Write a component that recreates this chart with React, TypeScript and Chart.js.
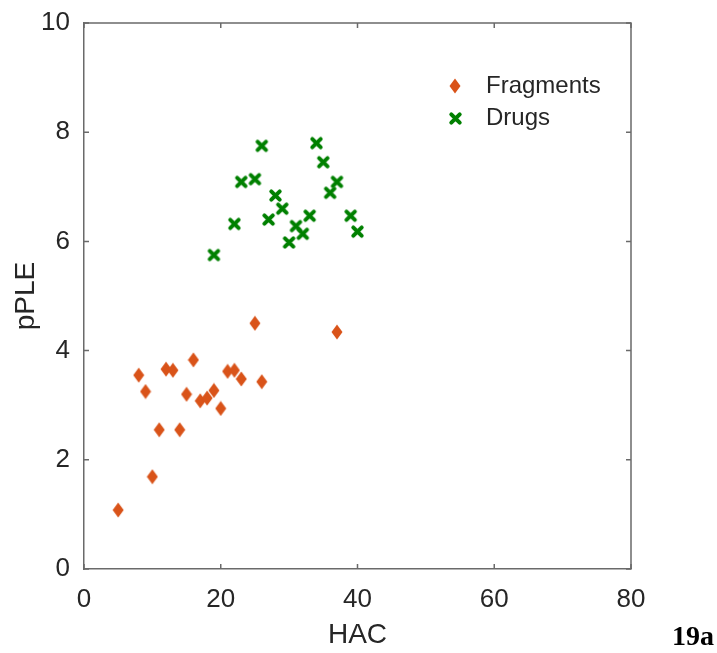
import React, { useEffect, useRef } from "react";
import { Chart, registerables } from "chart.js";

Chart.register(...registerables);

// ---- data ----
const fragmentHAC = [5, 8, 9, 10, 11, 12, 13, 14, 15, 16, 17, 18, 19, 20, 21, 22, 23, 25, 26, 37];
const fragmentPPLE = [1.08, 3.55, 3.25, 1.69, 2.55, 3.66, 3.64, 2.55, 3.2, 3.83, 3.08, 3.13, 3.27, 2.94, 3.62, 3.64, 3.48, 4.5, 3.43, 4.34];
const drugHAC = [19, 22, 23, 25, 26, 27, 28, 29, 30, 31, 32, 33, 34, 35, 36, 37, 39, 40];
const drugPPLE = [5.75, 6.32, 7.09, 7.14, 7.75, 6.4, 6.84, 6.6, 5.98, 6.28, 6.14, 6.47, 7.8, 7.45, 6.89, 7.09, 6.47, 6.18];
const xTickValues = [0, 20, 40, 60, 80];
const yTickValues = [0, 2, 4, 6, 8, 10];
const seriesNames = ["Fragments", "Drugs"];
const xTitle = "HAC";
const yTitle = "pPLE";
const panelLabel = "19a";

const ORANGE = "#D95319";
const GREEN = "#008000";
const TEXT = "#262626";
const AXIS = "#6a6a6a";
const FONT = "'Liberation Sans', Arial, sans-serif";

function makeDiamond(): HTMLCanvasElement {
  const c = document.createElement("canvas");
  c.width = 12;
  c.height = 16;
  const g = c.getContext("2d")!;
  g.fillStyle = ORANGE;
  g.beginPath();
  g.moveTo(6, 0.5);
  g.lineTo(11.5, 8);
  g.lineTo(6, 15.5);
  g.lineTo(0.5, 8);
  g.closePath();
  g.fill();
  return c;
}

function makeCross(): HTMLCanvasElement {
  const c = document.createElement("canvas");
  c.width = 15;
  c.height = 15;
  const g = c.getContext("2d")!;
  g.strokeStyle = GREEN;
  g.lineWidth = 4;
  g.lineCap = "round";
  g.beginPath();
  g.moveTo(3.3, 3.3);
  g.lineTo(11.7, 11.7);
  g.moveTo(11.7, 3.3);
  g.lineTo(3.3, 11.7);
  g.stroke();
  return c;
}

export default function App() {
  const ref = useRef<HTMLCanvasElement | null>(null);

  useEffect(() => {
    document.body.style.margin = "0";
    const canvas = ref.current!;
    const diamond = makeDiamond();
    const cross = makeCross();

    const boxPlugin = {
      id: "boxTicksLegend",
      afterDraw(chart: any) {
        const { ctx, chartArea: ca, scales } = chart;
        const xs = scales.x;
        const ys = scales.y;
        ctx.save();
        ctx.strokeStyle = AXIS;
        ctx.lineWidth = 1.5;
        ctx.beginPath();
        ctx.moveTo(ca.left, ca.top);
        ctx.lineTo(ca.right, ca.top);
        ctx.lineTo(ca.right, ca.bottom);
        ctx.stroke();
        const tl = 5;
        ctx.beginPath();
        xs.ticks.forEach((t: any) => {
          const px = xs.getPixelForValue(t.value);
          ctx.moveTo(px, ca.bottom);
          ctx.lineTo(px, ca.bottom - tl);
          ctx.moveTo(px, ca.top);
          ctx.lineTo(px, ca.top + tl);
        });
        ys.ticks.forEach((t: any) => {
          const py = ys.getPixelForValue(t.value);
          ctx.moveTo(ca.left, py);
          ctx.lineTo(ca.left + tl, py);
          ctx.moveTo(ca.right, py);
          ctx.lineTo(ca.right - tl, py);
        });
        ctx.stroke();

        // legend
        const mx = ca.right - 176;
        const rows = [ca.top + 63, ca.top + 95];
        const imgs = [diamond, cross];
        ctx.fillStyle = TEXT;
        ctx.font = `24px ${FONT}`;
        ctx.textBaseline = "middle";
        ctx.textAlign = "left";
        seriesNames.forEach((name, i) => {
          const im = imgs[i];
          ctx.drawImage(im, Math.round(mx - im.width / 2), Math.round(rows[i] - im.height / 2));
          ctx.fillText(name, mx + 31, rows[i]);
        });

        // panel label
        ctx.font = `bold 28px 'Liberation Serif', 'Times New Roman', serif`;
        ctx.textAlign = "right";
        ctx.textBaseline = "alphabetic";
        ctx.fillStyle = "#000";
        ctx.fillText(panelLabel, 714, 645);
        ctx.restore();
      },
    };

    const chart = new Chart(canvas, {
      type: "scatter",
      data: {
        datasets: [
          {
            label: seriesNames[0],
            data: fragmentHAC.map((x, i) => ({ x, y: fragmentPPLE[i] })),
            pointStyle: diamond as any,
            pointRadius: 7,
            backgroundColor: ORANGE,
            borderColor: ORANGE,
          },
          {
            label: seriesNames[1],
            data: drugHAC.map((x, i) => ({ x, y: drugPPLE[i] })),
            pointStyle: cross as any,
            pointRadius: 7,
            backgroundColor: GREEN,
            borderColor: GREEN,
          },
        ],
      },
      options: {
        animation: false,
        responsive: false,
        devicePixelRatio: 1,
        layout: { padding: { left: 0, top: 23, right: 86, bottom: 0 } },
        plugins: {
          legend: { display: false },
          tooltip: { enabled: false },
        },
        scales: {
          x: {
            type: "linear",
            min: 0,
            max: 80,
            afterBuildTicks: (s: any) => {
              s.ticks = xTickValues.map((v) => ({ value: v }));
            },
            afterFit: (s: any) => {
              s.height = 84;
            },
            grid: { display: false },
            border: { display: true, color: AXIS, width: 1.5 },
            ticks: {
              color: TEXT,
              font: { family: FONT, size: 26 },
              padding: 7,
              maxRotation: 0,
            },
            title: {
              display: true,
              text: xTitle,
              color: TEXT,
              font: { family: FONT, size: 28 },
              padding: { top: 2, bottom: 1 },
            },
          },
          y: {
            type: "linear",
            min: 0,
            max: 10,
            afterBuildTicks: (s: any) => {
              s.ticks = yTickValues.map((v) => ({ value: v }));
            },
            afterFit: (s: any) => {
              s.width = 84;
            },
            grid: { display: false },
            border: { display: true, color: AXIS, width: 1.5 },
            ticks: {
              color: TEXT,
              font: { family: FONT, size: 26 },
              padding: 6,
            },
            title: {
              display: true,
              text: yTitle,
              color: TEXT,
              font: { family: FONT, size: 28 },
              padding: { top: 9, bottom: 9 },
            },
          },
        },
      },
      plugins: [boxPlugin],
    });

    return () => chart.destroy();
  }, []);

  return (
    <canvas
      ref={ref}
      width={717}
      height={653}
      style={{ display: "block", width: 717, height: 653 }}
    />
  );
}
